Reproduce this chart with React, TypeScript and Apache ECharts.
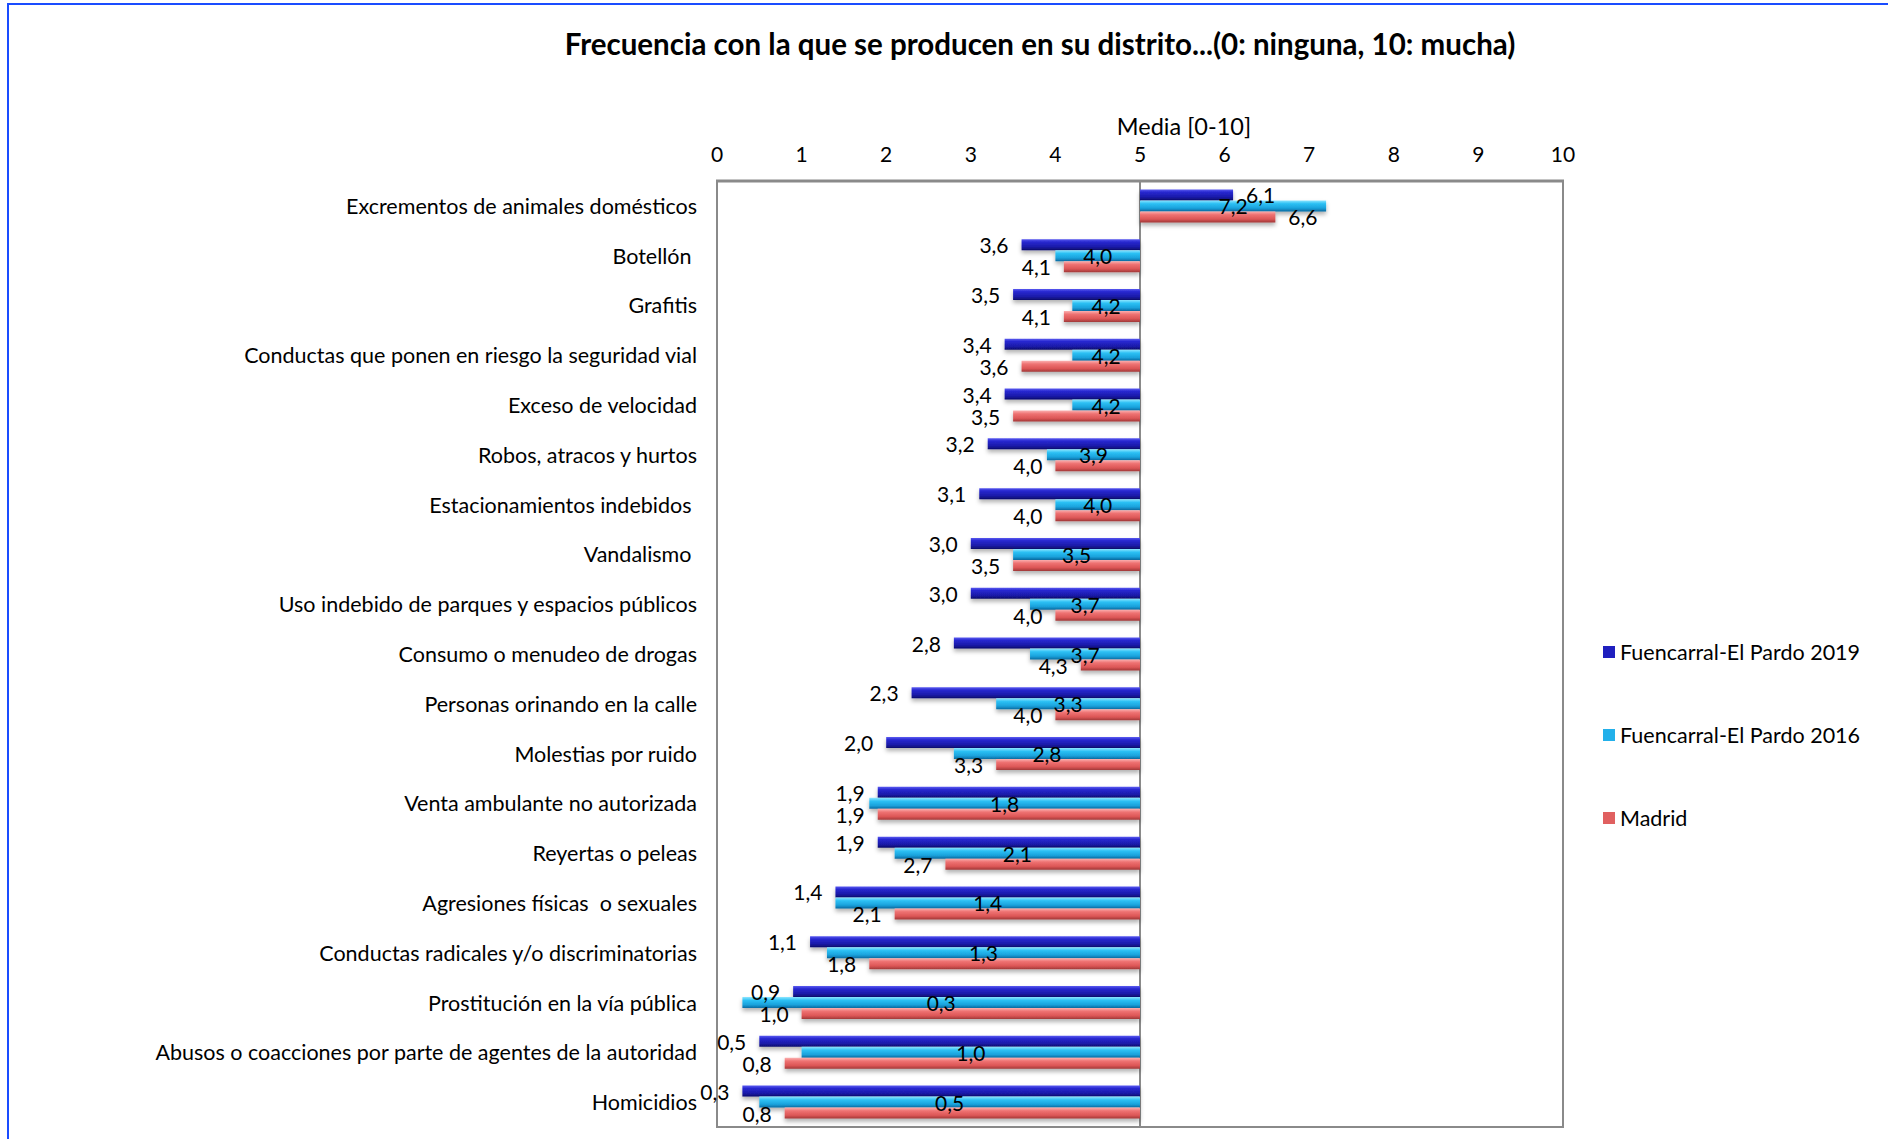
import React, { useEffect, useRef } from "react";
import * as echarts from "echarts";

const categories = [
  "Excrementos de animales domésticos",
  "Botellón ",
  "Grafitis",
  "Conductas que ponen en riesgo la seguridad vial",
  "Exceso de velocidad",
  "Robos, atracos y hurtos",
  "Estacionamientos indebidos ",
  "Vandalismo ",
  "Uso indebido de parques y espacios públicos",
  "Consumo o menudeo de drogas",
  "Personas orinando en la calle",
  "Molestias por ruido",
  "Venta ambulante no autorizada",
  "Reyertas o peleas",
  "Agresiones físicas  o sexuales",
  "Conductas radicales y/o discriminatorias",
  "Prostitución en la vía pública",
  "Abusos o coacciones por parte de agentes de la autoridad",
  "Homicidios",
];

const fuencarral2019 = [6.1, 3.6, 3.5, 3.4, 3.4, 3.2, 3.1, 3.0, 3.0, 2.8, 2.3, 2.0, 1.9, 1.9, 1.4, 1.1, 0.9, 0.5, 0.3];
const fuencarral2016 = [7.2, 4.0, 4.2, 4.2, 4.2, 3.9, 4.0, 3.5, 3.7, 3.7, 3.3, 2.8, 1.8, 2.1, 1.4, 1.3, 0.3, 1.0, 0.5];
const madrid = [6.6, 4.1, 4.1, 3.6, 3.5, 4.0, 4.0, 3.5, 4.0, 4.3, 4.0, 3.3, 1.9, 2.7, 2.1, 1.8, 1.0, 0.8, 0.8];

const seriesNames = ["Fuencarral-El Pardo 2019", "Fuencarral-El Pardo 2016", "Madrid"];
const axisTicks = [0, 10];
const midValue = 5;

const fmt = (v: number) => v.toFixed(1).replace(".", ",");

const grad = (stops: [number, string][]) =>
  new echarts.graphic.LinearGradient(0, 0, 0, 1, stops.map(([offset, color]) => ({ offset, color })));

export default function App() {
  const ref = useRef<HTMLDivElement>(null);
  useEffect(() => {
    if (!ref.current) return;
    const chart = echarts.init(ref.current, null, { renderer: "svg" });

    const font = "Lato";
    const colors = [
      grad([[0, "#5a5af0"], [0.25, "#2828d0"], [0.7, "#1a1aa8"], [1, "#0c0c6a"]]),
      grad([[0, "#8ee6ff"], [0.3, "#2cc0f4"], [0.7, "#1aa2dc"], [1, "#0a6aa0"]]),
      grad([[0, "#fbb0b0"], [0.3, "#ee7272"], [0.7, "#dc5656"], [1, "#a03838"]]),
    ];
    const legendColors = ["#1f1fbf", "#22b0ea", "#e06060"];

    const makeSeries = (idx: number, values: number[], mode: "outside" | "inside") => ({
      name: seriesNames[idx],
      type: "bar",
      xAxisIndex: 1,
      yAxisIndex: 0,
      barWidth: 11,
      barGap: "0%",
      itemStyle: {
        color: colors[idx],
        shadowBlur: 4,
        shadowColor: "rgba(0,0,0,0.3)",
        shadowOffsetY: 3,
      },
      data: values.map((v) => ({
        value: Math.round((v - midValue) * 10) / 10,
        label: {
          position: mode === "inside" ? "inside" : v < midValue ? "left" : "right",
        },
      })),
      label: {
        show: true,
        distance: 13,
        fontFamily: font,
        fontSize: 21,
        color: "#000",
        formatter: (p: any) => fmt(values[p.dataIndex]),
      },
      ...(idx === 0
        ? {
            markLine: {
              silent: true,
              symbol: "none",
              label: { show: false },
              lineStyle: { color: "#8a8a8a", width: 2, type: "solid" },
              data: [{ xAxis: 0 }],
              z: 1,
            },
          }
        : {}),
    });

    chart.setOption({
      animation: false,
      backgroundColor: "#ffffff",
      textStyle: { fontFamily: font },
      grid: {
        left: 717,
        right: 325,
        top: 181,
        bottom: 12,
        containLabel: false,
        show: true,
        borderColor: "#8a8a8a",
        borderWidth: 2,
        backgroundColor: "transparent",
      },
      legend: {
        orient: "vertical",
        left: 1598,
        top: 636,
        itemWidth: 12,
        itemHeight: 12,
        itemGap: 61,
        icon: "rect",
        textStyle: { fontFamily: font, fontSize: 21.5, color: "#000" },
        data: seriesNames.map((n, i) => ({ name: n, itemStyle: { color: legendColors[i] } })),
      },
      xAxis: [
        {
          type: "value",
          position: "top",
          min: axisTicks[0],
          max: axisTicks[1],
          interval: 1,
          axisLine: { show: false },
          axisTick: { show: false },
          splitLine: { show: false },
          axisLabel: { fontFamily: font, fontSize: 21, color: "#000", margin: 17 },
        },
        {
          type: "value",
          show: false,
          min: axisTicks[0] - midValue,
          max: axisTicks[1] - midValue,
          splitLine: { show: false },
        },
      ],
      yAxis: {
        type: "category",
        inverse: true,
        data: categories,
        axisLine: { show: false },
        axisTick: { show: false },
        axisLabel: { fontFamily: font, fontSize: 21.5, color: "#000", margin: 20 },
      },
      graphic: [
        {
          type: "rect",
          shape: { x: 8, y: 4, width: 2000, height: 1300 },
          style: { fill: "none", stroke: "#1a4cff", lineWidth: 2 },
          silent: true,
        },
        {
          type: "line",
          shape: { x1: 716, y1: 181, x2: 1564, y2: 181 },
          style: { stroke: "#8a8a8a", lineWidth: 3 },
          silent: true,
        },
        {
          type: "text",
          x: 1040,
          y: 43,
          style: {
            text: "Frecuencia con la que se producen en su distrito...(0: ninguna, 10: mucha)",
            fontFamily: font,
            fontWeight: "bold",
            fontSize: 29.5,
            fill: "#000",
            textAlign: "center",
            textVerticalAlign: "middle",
          },
        },
        {
          type: "text",
          x: 1184,
          y: 126,
          style: {
            text: "Media [0-10]",
            fontFamily: font,
            fontSize: 23.5,
            fill: "#000",
            textAlign: "center",
            textVerticalAlign: "middle",
          },
        },
      ],
      series: [
        makeSeries(0, fuencarral2019, "outside"),
        makeSeries(1, fuencarral2016, "inside"),
        makeSeries(2, madrid, "outside"),
      ],
    });
    return () => chart.dispose();
  }, []);
  return (
    <div
      ref={ref}
      style={{ position: "absolute", left: 0, top: 0, width: 1888, height: 1139 }}
    />
  );
}
